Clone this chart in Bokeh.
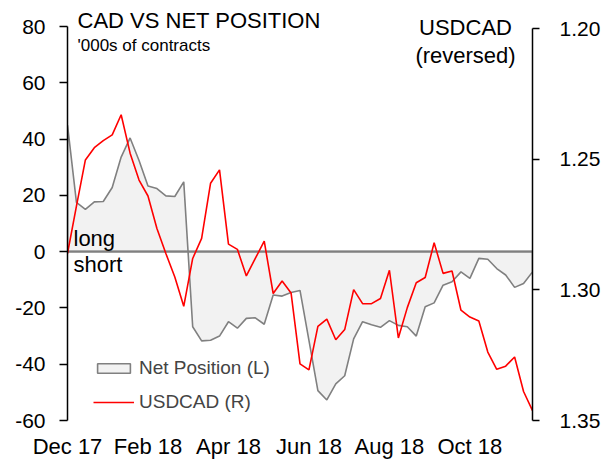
import pandas as pd
from bokeh.plotting import figure
from bokeh.models import (Range1d, LinearAxis, FixedTicker, Label, Legend,
                          LegendItem, NumeralTickFormatter)
from bokeh.embed import file_html
from bokeh.resources import INLINE

# ---- data (weekly) ----
weeks = [d.strftime("%Y-%m-%d") for d in pd.date_range("2017-12-05", periods=53, freq="7D")]
net_position = [45, 17.5, 15.0, 17.7, 17.8, 22.8, 33.6, 40.4, 32.4, 23.3,
                22.4, 19.8, 19.6, 24.8, -26.7, -31.7, -31.5, -30.0, -24.9, -27.2,
                -23.7, -23.5, -25.8, -15.4, -15.8, -14.5, -13.8, -31.5, -49.4, -52.7,
                -47.0, -44.1, -31.0, -24.9, -26.0, -26.9, -24.5, -26.2, -26.7, -30.0,
                -19.6, -18.2, -11.9, -10.7, -7.2, -9.5, -2.4, -2.7, -6.0, -8.3,
                -12.7, -11.3, -7.2]
usdcad = [1.2861, 1.2680, 1.2503, 1.2456, 1.2429, 1.2407, 1.2330, 1.2477, 1.2580, 1.2641,
          1.2765, 1.2861, 1.2951, 1.3063, 1.2880, 1.2803, 1.2592, 1.2541, 1.2825, 1.2845,
          1.2947, 1.2880, 1.2814, 1.3014, 1.2966, 1.3012, 1.3283, 1.3306, 1.3140, 1.3112,
          1.3191, 1.3152, 1.2999, 1.3053, 1.3053, 1.3033, 1.2925, 1.3184, 1.3068, 1.2973,
          1.2953, 1.2820, 1.2937, 1.2928, 1.3078, 1.3104, 1.3119, 1.3238, 1.3304, 1.3292,
          1.3257, 1.3389, 1.3462]
tick_labels = ["Dec 17", "Feb 18", "Apr 18", "Jun 18", "Aug 18", "Oct 18"]
label_every = 9
left_ticks = [-60, -40, -20, 0, 20, 40, 60, 80]
right_ticks = [1.20, 1.25, 1.30, 1.35]

FONT = "Liberation Sans"
GREY = "#808080"
FILL = "#f2f2f2"
RED = "#ff0000"

idx = list(range(len(weeks)))
tick_pos = idx[::label_every]

# frame spans full height above the x labels; axes drawn only between their bounds
FRAME_H = 420
AXIS_TOP = 26        # pixel row of the top ticks (80 / 1.20)
left_lo, left_hi = left_ticks[0], left_ticks[-1]
left_top = left_hi + (left_hi - left_lo) * AXIS_TOP / (FRAME_H - AXIS_TOP)
right_lo, right_hi = right_ticks[0], right_ticks[-1]
right_top = right_lo - (right_hi - right_lo) * (AXIS_TOP + 2) / (FRAME_H - AXIS_TOP - 2)

p = figure(width=616, height=464, output_backend="svg", toolbar_location=None,
           x_range=Range1d(idx[0], idx[-1]), y_range=Range1d(left_lo, left_top),
           min_border_left=67, min_border_right=84, min_border_top=0,
           min_border_bottom=44)
p.outline_line_color = None
p.xgrid.visible = False
p.ygrid.visible = False
p.extra_y_ranges = {"usd": Range1d(start=right_hi, end=right_top)}

# area for net position
area = p.patch(x=idx + idx[::-1], y=net_position + [0] * len(idx),
               fill_color=FILL, line_color=GREY, line_width=1.6)
# zero line
p.hspan(y=[0], line_color=GREY, line_width=2)
# USDCAD
red = p.line(x=idx, y=usdcad, y_range_name="usd", line_color=RED, line_width=1.6)

# left axis
ya = p.yaxis[0]
ya.ticker = FixedTicker(ticks=left_ticks)
ya.major_label_overrides = {t: str(t) for t in left_ticks}
ya.bounds = (left_lo, left_hi)
ya.axis_line_color = "black"
ya.axis_line_width = 1.5
ya.major_tick_line_color = "black"
ya.major_tick_line_width = 1.5
ya.major_tick_out = 8
ya.major_tick_in = 0
ya.minor_tick_line_color = None
ya.major_label_standoff = 14
ya.major_label_text_font = FONT
ya.major_label_text_font_size = "21px"
ya.major_label_text_color = "black"

# right axis
ra = LinearAxis(y_range_name="usd", ticker=FixedTicker(ticks=right_ticks),
                formatter=NumeralTickFormatter(format="0.00"))
ra.bounds = (right_lo, right_hi)
ra.axis_line_color = "black"
ra.axis_line_width = 1.5
ra.major_tick_line_color = "black"
ra.major_tick_line_width = 1.5
ra.major_tick_out = 7
ra.major_tick_in = 0
ra.minor_tick_line_color = None
ra.major_label_standoff = 20
ra.major_label_text_font = FONT
ra.major_label_text_font_size = "21px"
ra.major_label_text_color = "black"
p.add_layout(ra, "right")

# bottom axis
xa = p.xaxis[0]
xa.ticker = FixedTicker(ticks=tick_pos)
xa.major_label_overrides = {pos: lab for pos, lab in zip(tick_pos, tick_labels)}
xa.axis_line_color = None
xa.major_tick_line_color = None
xa.minor_tick_line_color = None
xa.major_tick_out = 0
xa.major_tick_in = 0
xa.major_label_standoff = 13
xa.major_label_text_font = FONT
xa.major_label_text_font_size = "22px"
xa.major_label_text_color = "black"

# texts (screen units measured from the frame's bottom-left)
def add_text(txt, x, y, size, align="left"):
    p.add_layout(Label(x=x, y=y, x_units="screen", y_units="screen", text=txt,
                       text_font=FONT, text_font_size=size, text_color="black",
                       text_align=align, text_baseline="alphabetic"))

add_text("CAD VS NET POSITION", 10, 400, "22px")
add_text("'000s of contracts", 10, 375, "17px")
add_text("USDCAD", 398, 393, "22px", "center")
add_text("(reversed)", 398, 365, "22px", "center")
add_text("long", 6, 182, "22px")
add_text("short", 6, 156, "22px")

legend = Legend(items=[LegendItem(label="Net Position (L)", renderers=[area]),
                       LegendItem(label="USDCAD (R)", renderers=[red])],
                location=(26, 7), glyph_width=41, glyph_height=12,
                label_text_font=FONT, label_text_font_size="19px",
                label_standoff=5, spacing=12, padding=0, margin=0,
                border_line_color=None, background_fill_alpha=0)
p.add_layout(legend)

open("out.html", "w").write(file_html(p, INLINE))
